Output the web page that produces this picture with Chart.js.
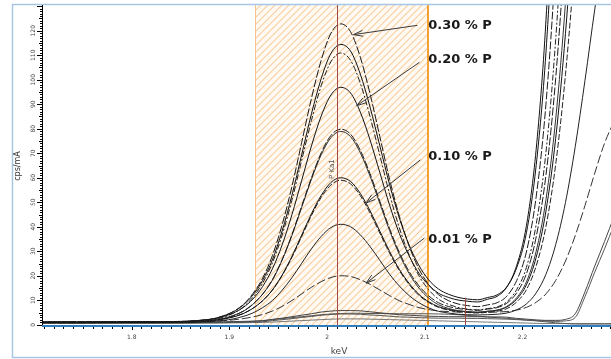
<!DOCTYPE html>
<html>
<head>
<meta charset="utf-8">
<script src="https://cdn.jsdelivr.net/npm/chart.js@4"></script>
<style>
  html, body { margin: 0; padding: 0; background: #fff; }
  canvas { display: block; }
</style>
</head>
<body>
<canvas id="chart" width="611" height="359"></canvas>
<script>
// Energies of the spectrum channels (keV)
const energies = [1.704, 1.744, 1.784, 1.824, 1.854, 1.874, 1.884, 1.894, 1.904, 1.914, 1.924, 1.934, 1.944, 1.954, 1.964, 1.974, 1.984, 1.994, 2.004, 2.014, 2.024, 2.034, 2.044, 2.054, 2.064, 2.074, 2.084, 2.094, 2.104, 2.114, 2.124, 2.134, 2.144, 2.154, 2.164, 2.174, 2.184, 2.194, 2.204, 2.214, 2.224, 2.234, 2.244, 2.254, 2.264, 2.274, 2.284, 2.294];

// Intensities (cps/mA), one spectrum per standard
const spec01 = [1.2, 1.2, 1.3, 1.3, 1.4, 2.0, 2.5, 3.7, 5.4, 8.2, 12.7, 19.0, 28.2, 40.8, 56.4, 74.4, 92.4, 108, 119, 122.8, 119.6, 109.2, 94.2, 76.8, 59.3, 44.3, 32.1, 22.8, 16.4, 12.3, 9.9, 8.5, 7.8, 7.4, 8.1, 9.0, 11.7, 18, 29.7, 52.2, 90, 149, 235, 347, 481, 625, 757, 856];
const spec02 = [1.0, 1.1, 1.0, 1.1, 1.3, 1.9, 2.5, 3.6, 5.3, 8.0, 12.1, 18.1, 26.5, 38.3, 52.8, 69.4, 86.1, 100.5, 110.8, 114.4, 111.7, 102.3, 88.8, 73, 57.2, 43.5, 32.5, 24.2, 18.3, 14.6, 12.5, 11.2, 10.5, 10.2, 11.1, 12.2, 15.5, 23.2, 37.5, 65, 111, 184, 288, 426, 590, 765, 926, 1047];
const spec03 = [0.9, 0.9, 1.0, 1.0, 1.1, 1.6, 2.1, 3.1, 4.7, 7.2, 11.2, 17, 25.2, 36.6, 50.8, 67.1, 83.4, 97.6, 107.4, 110.9, 107.9, 98.6, 84.9, 69.1, 53.3, 39.5, 28.5, 20, 14.3, 10.5, 8.4, 7.1, 6.4, 6.1, 6.6, 7.3, 9.4, 14.3, 23.4, 40.9, 70.3, 116.5, 183, 270, 375, 486, 589, 666];
const spec04 = [1.1, 1.1, 1.2, 1.2, 1.4, 1.9, 2.4, 3.4, 4.8, 7.0, 10.5, 15.6, 22.8, 32.6, 44.9, 58.9, 73, 85.2, 93.8, 96.9, 94.6, 86.8, 75.4, 62.1, 48.8, 37.2, 28.1, 21, 16.2, 12.9, 11.2, 10.1, 9.6, 9.3, 10.4, 11.6, 15.4, 24.1, 40.4, 71.6, 124, 207, 325, 482, 668, 867, 1050, 1188];
const spec05 = [0.8, 0.8, 0.9, 0.9, 1.0, 1.4, 1.8, 2.5, 3.7, 5.5, 8.4, 12.5, 18.4, 26.6, 36.8, 48.4, 60, 70.2, 77.3, 79.8, 77.8, 71.2, 61.6, 50.4, 39.2, 29.5, 21.7, 15.9, 11.8, 9.0, 7.5, 6.6, 6.2, 5.9, 6.4, 7.0, 8.8, 13, 20.8, 35.8, 61, 100.6, 157.6, 232.6, 322, 417, 506, 572];
const spec06 = [1.0, 1.0, 1.1, 1.1, 1.2, 1.5, 1.9, 2.6, 3.8, 5.5, 8.3, 12.5, 18.2, 26.4, 36.4, 47.9, 59.4, 69.4, 76.4, 78.9, 76.8, 70.2, 60.6, 49.5, 38.4, 28.7, 20.9, 15, 10.9, 8.2, 6.7, 5.8, 5.4, 5.1, 5.5, 6, 7.5, 11, 17.5, 30, 51, 84, 131.5, 194, 268.5, 348, 421.5, 476.5];
const spec07 = [1.0, 0.9, 1.0, 1.0, 1.2, 1.4, 1.8, 2.3, 3.2, 4.5, 6.7, 9.8, 14.2, 20.3, 27.9, 36.6, 45.3, 52.8, 58.1, 60, 58.5, 53.6, 46.5, 38.2, 29.9, 22.6, 16.9, 12.4, 9.4, 7.4, 6.3, 5.6, 5.3, 5.1, 5.5, 5.9, 7.3, 10.4, 16.3, 27.5, 46.4, 76.1, 118.9, 175, 242, 314, 380, 429];
const spec08 = [1.2, 1.2, 1.2, 1.3, 1.4, 1.6, 1.8, 2.5, 3.3, 4.6, 6.7, 9.8, 14.1, 20.1, 27.5, 36, 44.6, 52, 57.1, 59, 57.5, 52.7, 45.6, 37.4, 29.2, 22.1, 16.4, 12, 9.1, 7.1, 6, 5.3, 5, 4.8, 5.1, 5.5, 6.6, 9.3, 14.3, 24, 40.1, 65.5, 102.1, 150.2, 207.6, 268.8, 325.4, 367.8];
const spec09 = [0.9, 0.9, 0.9, 1.0, 1.0, 1.2, 1.4, 1.8, 2.4, 3.4, 4.8, 7, 9.9, 14.1, 19.2, 25.1, 31, 36.1, 39.7, 41, 40, 36.7, 31.9, 26.3, 20.6, 15.8, 11.9, 9, 6.9, 5.5, 4.8, 4.3, 4.1, 4.0, 4.1, 4.3, 4.8, 6.1, 8.5, 13, 20.6, 32.7, 49.9, 72.7, 99.8, 128.8, 155.5, 175.5];
const spec10 = [1.0, 1.0, 1.0, 1.0, 1.1, 1.3, 1.4, 1.7, 2, 2.5, 3.2, 4.2, 5.6, 7.5, 9.9, 12.6, 15.3, 17.6, 19.3, 20, 19.7, 18.4, 16.5, 14.2, 11.9, 9.8, 8.3, 7, 6.2, 5.6, 5.4, 5.2, 5.1, 5, 5.1, 5.2, 5.4, 6, 7.1, 9.2, 12.6, 18.1, 26, 36.4, 48.7, 61.9, 74.1, 83.3];
const spec11 = [0.8, 0.8, 0.8, 0.8, 0.9, 0.9, 1.0, 1.1, 1.2, 1.2, 1.4, 1.6, 2.2, 2.7, 3.3, 3.9, 4.5, 5.2, 5.6, 5.8, 5.8, 5.7, 5.3, 4.9, 4.5, 4.1, 3.9, 3.7, 3.5, 3.4, 3.3, 3.3, 3.3, 3.3, 3.2, 3.2, 3.1, 2.6, 2.3, 2.0, 1.8, 1.8, 2.2, 4.5, 13.5, 24, 34, 44.5];
const spec12 = [0.7, 0.7, 0.7, 0.7, 0.7, 0.8, 0.8, 0.9, 0.9, 1.0, 1.1, 1.2, 1.7, 2.1, 2.5, 3.0, 3.4, 3.9, 4.2, 4.4, 4.4, 4.3, 4.0, 3.8, 3.5, 3.2, 3.1, 2.9, 2.8, 2.7, 2.7, 2.7, 2.6, 2.6, 2.5, 2.4, 2.3, 2.1, 1.9, 1.7, 1.5, 1.4, 1.6, 3.0, 11.5, 21.5, 31, 41];
const spec13 = [0.8, 0.8, 0.9, 0.9, 0.9, 1.0, 1.1, 1.2, 1.3, 1.4, 1.5, 1.7, 2.1, 2.5, 2.9, 3.3, 3.7, 4.1, 4.4, 4.6, 4.7, 4.7, 4.6, 4.6, 4.5, 4.5, 4.5, 4.5, 4.5, 4.4, 4.3, 4.1, 3.8, 3.5, 3.2, 2.9, 2.6, 2.3, 1.9, 1.6, 1.2, 0.8, 0.5, 0.3, 0.3, 0.3, 0.3, 0.3];
const spec14 = [0.6, 0.6, 0.6, 0.6, 0.6, 0.7, 0.7, 0.7, 0.8, 0.8, 0.9, 1.0, 1.1, 1.3, 1.5, 1.7, 1.9, 2.1, 2.3, 2.4, 2.4, 2.4, 2.3, 2.2, 2.1, 2.0, 1.9, 1.8, 1.7, 1.6, 1.5, 1.4, 1.3, 1.2, 1.1, 1.0, 0.9, 0.8, 0.7, 0.6, 0.5, 0.5, 0.5, 0.5, 0.5, 0.5, 0.5, 0.5];

const spectra = [spec01, spec02, spec03, spec04, spec05, spec06, spec07, spec08, spec09, spec10, spec11, spec12, spec13, spec14];

// Axis ticks
const yTickValues = [0, 10, 20, 30, 40, 50, 60, 70, 80, 90, 100, 110, 120];
const xTickValues = [1.8, 1.9, 2.0, 2.1, 2.2];
const xTickLabels = ['1.8', '1.9', '2', '2.1', '2.2'];

// Region of interest and line markers (keV)
const roiStart = 1.926;
const roiEnd = 2.103;
const pKa1 = 2.010;
const cursorE = 2.1415;

// Concentration labels with arrows: [text, textE, textY, fromE, fromY, toE, toY]
const notes = [
  ['0.30 % P', 2.1035, 122, 2.0924, 122.2, 2.0269, 118.4],
  ['0.20 % P', 2.1035, 108.2, 2.0945, 107.1, 2.0303, 89.4],
  ['0.10 % P', 2.1035, 68.6, 2.0955, 67.3, 2.0399, 49.7],
  ['0.01 % P', 2.1035, 34.7, 2.0996, 35.4, 2.0399, 17.0]
];

const lineStyles = [
  { color: '#1a1a1a', dash: [8, 2] },
  { color: '#111', dash: [] },
  { color: '#222', dash: [6, 2, 2, 2] },
  { color: '#111', dash: [] },
  { color: '#1a1a1a', dash: [8, 2] },
  { color: '#333', dash: [] },
  { color: '#111', dash: [] },
  { color: '#222', dash: [6, 2] },
  { color: '#222', dash: [] },
  { color: '#333', dash: [9, 3] },
  { color: '#444', dash: [] },
  { color: '#555', dash: [] },
  { color: '#555', dash: [] },
  { color: '#777', dash: [] }
];

const chartCanvas = document.getElementById('chart');

function hatchPattern(ctx) {
  const c = document.createElement('canvas');
  c.width = 7;
  c.height = 7;
  const p = c.getContext('2d');
  p.fillStyle = '#fffaf3';
  p.fillRect(0, 0, 7, 7);
  p.strokeStyle = '#f9d0a2';
  p.lineWidth = 1.2;
  p.beginPath();
  p.moveTo(-1, 8); p.lineTo(8, -1);
  p.moveTo(-1, 1); p.lineTo(1, -1);
  p.moveTo(6, 8); p.lineTo(8, 6);
  p.stroke();
  return ctx.createPattern(c, 'repeat');
}

function drawArrow(ctx, x1, y1, x2, y2) {
  const ang = Math.atan2(y2 - y1, x2 - x1);
  ctx.beginPath();
  ctx.moveTo(x1, y1);
  ctx.lineTo(x2, y2);
  ctx.moveTo(x2 - 10 * Math.cos(ang - 0.3), y2 - 10 * Math.sin(ang - 0.3));
  ctx.lineTo(x2, y2);
  ctx.lineTo(x2 - 10 * Math.cos(ang + 0.3), y2 - 10 * Math.sin(ang + 0.3));
  ctx.stroke();
}

function vText(ctx, text, x, y) {
  ctx.save();
  ctx.translate(x, y);
  ctx.rotate(-Math.PI / 2);
  ctx.fillText(text, 0, 0);
  ctx.restore();
}

// ROI, markers, axes and labels
const spectrumDecor = {
  id: 'spectrumDecor',
  beforeDatasetsDraw(chart) {
    const { ctx, chartArea: a, scales: { x } } = chart;
    const x1 = Math.round(x.getPixelForValue(roiStart));
    const x2 = Math.round(x.getPixelForValue(roiEnd));
    ctx.save();
    ctx.fillStyle = hatchPattern(ctx);
    ctx.fillRect(x1, a.top, x2 - x1, a.bottom - a.top);
    ctx.strokeStyle = '#f6c38a';
    ctx.lineWidth = 1;
    ctx.beginPath();
    ctx.moveTo(x1 + 0.5, a.top);
    ctx.lineTo(x1 + 0.5, a.bottom);
    ctx.stroke();
    ctx.strokeStyle = '#f5a030';
    ctx.lineWidth = 2;
    ctx.beginPath();
    ctx.moveTo(x2, a.top);
    ctx.lineTo(x2, a.bottom);
    ctx.stroke();
    ctx.restore();
  },
  afterDatasetsDraw(chart) {
    const { ctx, chartArea: a, scales: { x, y } } = chart;
    ctx.save();
    ctx.strokeStyle = '#a4473f';
    ctx.lineWidth = 1;
    const px = Math.round(x.getPixelForValue(pKa1)) + 0.5;
    ctx.beginPath();
    ctx.moveTo(px, a.top);
    ctx.lineTo(px, a.bottom);
    const cx = Math.round(x.getPixelForValue(cursorE)) + 0.5;
    ctx.moveTo(cx, y.getPixelForValue(11));
    ctx.lineTo(cx, a.bottom);
    ctx.stroke();

    ctx.fillStyle = '#555';
    ctx.font = '7px "DejaVu Sans"';
    ctx.textAlign = 'center';
    ctx.textBaseline = 'middle';
    vText(ctx, 'P Ka1', px - 5, y.getPixelForValue(63.5));

    ctx.strokeStyle = '#3a3a3a';
    ctx.lineWidth = 1;
    ctx.fillStyle = '#1a1a1a';
    ctx.font = 'bold 13px "DejaVu Sans"';
    ctx.textAlign = 'left';
    notes.forEach(n => {
      drawArrow(ctx, x.getPixelForValue(n[3]), y.getPixelForValue(n[4]),
        x.getPixelForValue(n[5]), y.getPixelForValue(n[6]));
      ctx.fillText(n[0], x.getPixelForValue(n[1]), y.getPixelForValue(n[2]));
    });
    ctx.restore();
  },
  afterDraw(chart) {
    const { ctx, chartArea: a, scales: { x, y } } = chart;
    ctx.save();

    // outer frame
    ctx.strokeStyle = '#a9c5e6';
    ctx.lineWidth = 1.5;
    ctx.beginPath();
    ctx.moveTo(611, 4.5);
    ctx.lineTo(12.5, 4.5);
    ctx.lineTo(12.5, 357.5);
    ctx.lineTo(611, 357.5);
    ctx.stroke();

    // y axis
    ctx.strokeStyle = '#000';
    ctx.lineWidth = 1;
    ctx.beginPath();
    ctx.moveTo(a.left + 0.5, a.top);
    ctx.lineTo(a.left + 0.5, a.bottom);
    for (let v = 0; v <= 130; v++) {
      const py = Math.round(y.getPixelForValue(v)) + 0.5;
      const len = v % 10 === 0 ? 5 : (v % 5 === 0 ? 3 : 2);
      ctx.moveTo(a.left - len, py);
      ctx.lineTo(a.left, py);
    }
    ctx.stroke();
    ctx.fillStyle = '#444';
    ctx.font = '6px "DejaVu Sans"';
    ctx.textAlign = 'center';
    ctx.textBaseline = 'middle';
    yTickValues.forEach(v => vText(ctx, String(v), a.left - 9, y.getPixelForValue(v)));

    ctx.fillStyle = '#333';
    ctx.font = '8px "DejaVu Sans"';
    vText(ctx, 'cps/mA', 18, 166);

    // x axis
    ctx.strokeStyle = '#000';
    ctx.beginPath();
    for (let i = 171; i <= 229; i++) {
      const px = Math.round(x.getPixelForValue(i / 100)) + 0.5;
      ctx.moveTo(px, a.bottom);
      ctx.lineTo(px, a.bottom + (i % 10 === 0 ? 4 : 3));
    }
    ctx.stroke();
    ctx.strokeStyle = '#2f7dbd';
    ctx.lineWidth = 2;
    ctx.beginPath();
    ctx.moveTo(a.left, a.bottom);
    ctx.lineTo(a.right, a.bottom);
    ctx.stroke();

    ctx.fillStyle = '#444';
    ctx.font = '6px "DejaVu Sans"';
    xTickValues.forEach((v, i) => ctx.fillText(xTickLabels[i], x.getPixelForValue(v), a.bottom + 11));

    ctx.fillStyle = '#444';
    ctx.font = '9px "DejaVu Sans"';
    ctx.fillText('keV', 339, 352);
    ctx.restore();
  }
};

const chart = new Chart(chartCanvas, {
  type: 'line',
  data: {
    datasets: spectra.map((vals, i) => ({
      label: 'spectrum ' + (i + 1),
      data: vals.map((v, k) => ({ x: energies[k], y: v })),
      borderColor: lineStyles[i].color,
      borderDash: lineStyles[i].dash,
      borderWidth: 1,
      pointRadius: 0,
      cubicInterpolationMode: 'monotone',
      fill: false
    }))
  },
  options: {
    responsive: false,
    animation: false,
    devicePixelRatio: 1,
    layout: { padding: { left: 42, top: 5, right: 0, bottom: 33 } },
    plugins: { legend: { display: false }, tooltip: { enabled: false } },
    scales: {
      x: { type: 'linear', min: 1.7082, max: 2.2906, display: false },
      y: { min: -0.5, max: 130.5, display: false }
    }
  },
  plugins: [spectrumDecor]
});
</script>
</body>
</html>
